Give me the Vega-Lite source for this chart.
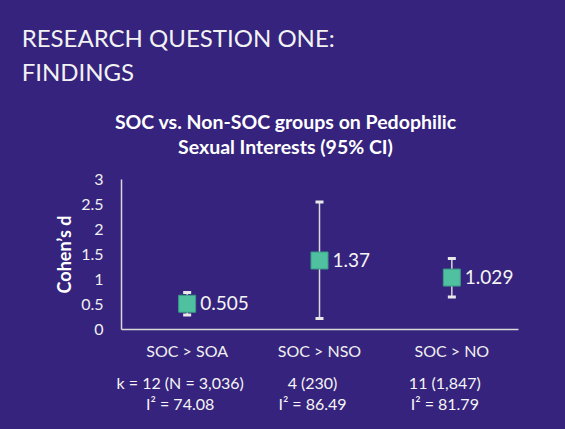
{
  "$schema": "https://vega.github.io/schema/vega-lite/v6.json",
  "width": 397,
  "height": 150,
  "autosize": {"type": "none"},
  "padding": {"left": 121, "top": 179, "right": 47, "bottom": 100},
  "background": "#35237d",
  "config": {"view": {"stroke": null}, "font": "Lato", "axisY": {"labelOverlap": false}},
  "data": {
    "values": [
      {"comparison": "SOC > SOA", "d": 0.505, "lo": 0.28, "hi": 0.73, "stats": "k = 12 (N = 3,036)\nI² = 74.08"},
      {"comparison": "SOC > NSO", "d": 1.37, "lo": 0.21, "hi": 2.54, "stats": "4 (230)\nI² = 86.49"},
      {"comparison": "SOC > NO", "d": 1.029, "lo": 0.64, "hi": 1.41, "stats": "11 (1,847)\nI² = 81.79"}
    ]
  },
  "encoding": {
    "x": {
      "field": "comparison",
      "type": "nominal",
      "sort": null,
      "scale": {"paddingInner": 0, "paddingOuter": 0},
      "axis": {
        "title": null,
        "labelAngle": 0,
        "labelFontSize": 16,
        "labelColor": "#f0f0f0",
        "labelPadding": 14,
        "ticks": false,
        "domainColor": "#d9d9d9",
        "domainWidth": 1.5,
        "grid": false
      }
    }
  },
  "layer": [
    {
      "mark": {"type": "rule", "color": "#d9d9d9", "strokeWidth": 1.5},
      "encoding": {
        "y": {
          "field": "lo",
          "type": "quantitative",
          "scale": {"domain": [0, 3], "nice": false},
          "axis": {
            "title": "Cohen’s d",
            "titleFontSize": 18,
            "titleFontWeight": "bold",
            "titleColor": "#ffffff",
            "titlePadding": 6,
            "values": [0, 0.5, 1, 1.5, 2, 2.5, 3],
            "tickCount": 7,
            "format": "~g",
            "labelOverlap": false,
            "labelFontSize": 16,
            "labelColor": "#f0f0f0",
            "labelPadding": 18,
            "ticks": false,
            "grid": false,
            "domainColor": "#d9d9d9",
            "domainWidth": 1.5
          }
        },
        "y2": {"field": "hi"}
      }
    },
    {
      "mark": {"type": "tick", "color": "#e8e8e8", "size": 8, "thickness": 3, "orient": "horizontal", "opacity": 1},
      "encoding": {"y": {"field": "lo", "type": "quantitative"}}
    },
    {
      "mark": {"type": "tick", "color": "#e8e8e8", "size": 8, "thickness": 3, "orient": "horizontal", "opacity": 1},
      "encoding": {"y": {"field": "hi", "type": "quantitative"}}
    },
    {
      "mark": {"type": "square", "size": 289, "fill": "#4fc0a0", "stroke": "#3b9c83", "strokeWidth": 1, "opacity": 1},
      "encoding": {"y": {"field": "d", "type": "quantitative"}}
    },
    {
      "mark": {"type": "text", "align": "left", "baseline": "middle", "dx": 13, "fontSize": 19, "color": "#f5f5f5"},
      "encoding": {
        "y": {"field": "d", "type": "quantitative"},
        "text": {"field": "d", "type": "nominal"}
      }
    },
    {
      "mark": {"type": "text", "align": "center", "baseline": "alphabetic", "lineBreak": "\n", "lineHeight": 21, "fontSize": 16, "dy": 60, "dx": -7, "color": "#f5f5f5"},
      "encoding": {
        "y": {"datum": 0},
        "text": {"field": "stats", "type": "nominal"}
      }
    },
    {
      "data": {"values": [{"heading": "SOC vs. Non-SOC groups on Pedophilic\nSexual Interests (95% CI)"}]},
      "mark": {"type": "text", "align": "center", "baseline": "middle", "lineBreak": "\n", "lineHeight": 25, "fontSize": 19.5, "fontWeight": "bold", "dx": -34, "dy": -56, "color": "#ffffff"},
      "encoding": {
        "x": {"datum": "SOC > NSO"},
        "y": {"datum": 3},
        "text": {"field": "heading", "type": "nominal"}
      }
    },
    {
      "data": {"values": [{"slide": "RESEARCH QUESTION ONE:\nFINDINGS"}]},
      "mark": {"type": "text", "align": "left", "baseline": "alphabetic", "lineBreak": "\n", "lineHeight": 34, "fontSize": 24, "fontWeight": 400, "dx": -165.5, "dy": -132, "color": "#f2f2f2"},
      "encoding": {
        "x": {"datum": "SOC > SOA"},
        "y": {"datum": 3},
        "text": {"field": "slide", "type": "nominal"}
      }
    }
  ]
}
